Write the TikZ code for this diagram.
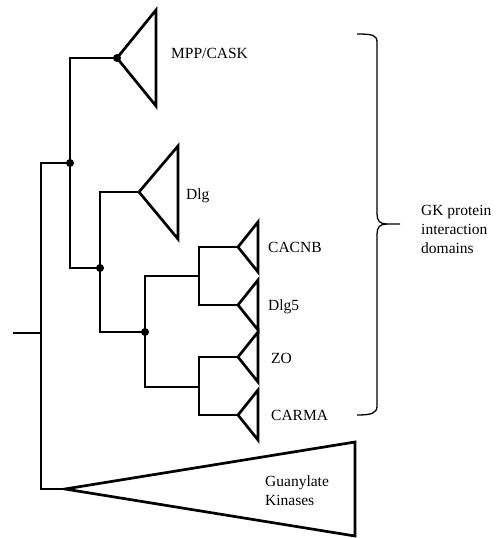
\documentclass[tikz,border=0pt]{standalone}
\usepackage{fontspec}
\setmainfont{Liberation Serif}

\begin{document}
\begin{tikzpicture}[x=1pt, y=-1pt,
  branch/.style={line width=2.7pt, black},
  clade/.style={line width=2.7pt, black, line join=miter},
  junc/.style={circle, fill=black, inner sep=0pt, minimum size=8pt},
  lbl/.style={font=\fontsize{15.5}{19}\selectfont, inner sep=0pt, anchor=base west},
  grp/.style={font=\fontsize{15.5}{19}\selectfont, inner sep=0pt, anchor=west, align=left},
  bracket/.style={line width=1.3pt, black}]

\useasboundingbox (0,0) rectangle (496,538);

  \coordinate (root) at (13,333);  \coordinate (r0) at (41,333);
  \coordinate (gkA)  at (65,489);
  \coordinate (dlgA) at (139,192);
  \coordinate (c1) at (199,276);   \coordinate (c2) at (199,387);
  \coordinate (cacA) at (238,247); \coordinate (dlg5A) at (238,305);
  \coordinate (zoA)  at (238,357); \coordinate (carA) at (238,415);

  \node[junc] (mppJ) at (117,58)  {};
  \node[junc] (d1)   at (70,163)  {};
  \node[junc] (d2)   at (100,268) {};
  \node[junc] (d3)   at (145,332) {};

  \draw[clade] (mppJ.center) -- ++(39,-48) -- ++(0,96) -- cycle;
  \draw[clade] (dlgA) -- ++(39,-46) -- ++(0,93) -- cycle;
  \draw[clade] (gkA) -- ++(290,-47) -- ++(0,94) -- cycle;
  \foreach \a in {cacA,dlg5A,zoA,carA} {\draw[clade] (\a) -- ++(20,-25) -- ++(0,50) -- cycle;}

  \draw[branch] (root) -- (r0);
  \draw[branch] (d1.center) -| (r0) |- (gkA);
  \draw[branch] (mppJ.center) -| (d1.center) |- (d2.center);
  \draw[branch] (dlgA) -| (d2.center) |- (d3.center);
  \draw[branch] (c1) -| (d3.center) |- (c2);
  \draw[branch] (cacA) -| (c1) |- (dlg5A);
  \draw[branch] (zoA) -| (c2) |- (carA);

  \node[lbl] (mppL) at (171,58)  {MPP/CASK};
  \node[lbl] (dlgL) at (186,199) {Dlg};
  \node[lbl] (cacL) at (268,252) {CACNB};
  \node[lbl] (d5L)  at (268,310) {Dlg5};
  \node[lbl] (zoL)  at (271,363) {ZO};
  \node[lbl] (carL) at (271,420) {CARMA};
  \node[grp] (gkL)  at (265,491) {Guanylate\\Kinases};

  \draw[bracket] (357,34) .. controls (372,34) and (377,35) .. (377,42) -- (377,214)
    .. controls (377,221) and (380,224) .. (387,224) -- (400,224) -- (387,224)
    .. controls (380,224) and (377,227) .. (377,234) -- (377,406)
    .. controls (377,413) and (372,415) .. (357,415);
  \node[grp] (domL) at (421,229) {GK protein\\interaction\\domains};

\end{tikzpicture}
\end{document}
